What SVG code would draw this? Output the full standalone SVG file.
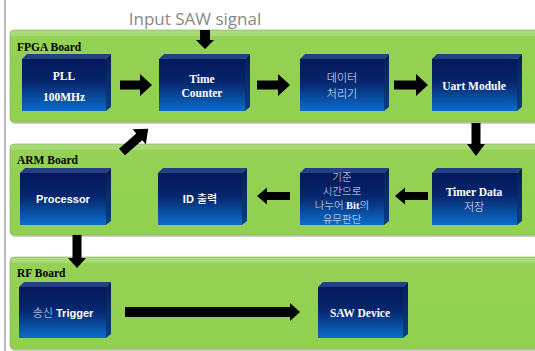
<svg xmlns="http://www.w3.org/2000/svg" width="535" height="351" viewBox="0 0 535 351">
<defs>
<linearGradient id="front" x1="0" y1="0" x2="0" y2="1">
<stop offset="0" stop-color="#03195a"/>
<stop offset="0.45" stop-color="#06266e"/>
<stop offset="1" stop-color="#0b6dc8"/>
</linearGradient>
<linearGradient id="side" x1="0" y1="0" x2="0" y2="1">
<stop offset="0" stop-color="#0a1c58"/>
<stop offset="1" stop-color="#0a3f82"/>
</linearGradient>
<linearGradient id="board" x1="0" y1="0" x2="0" y2="1">
<stop offset="0" stop-color="#acdc7e"/>
<stop offset="0.06" stop-color="#a6da74"/>
<stop offset="0.07" stop-color="#94d154"/>
<stop offset="1" stop-color="#92d050"/>
</linearGradient>
<style>
.board{fill:url(#board);stroke:#7fb048;stroke-width:0.6}
.bshadow{fill:#c8cfc4}
.blabel{font-family:"Liberation Serif","DejaVu Serif",serif;font-weight:bold;font-size:11.5px;fill:#000}
.fr{fill:url(#front)}
.tp{fill:#243f82}
.sd{fill:url(#side)}
.t{font-family:"Liberation Serif","DejaVu Serif",serif;font-weight:bold;font-size:11.5px;fill:#fff;text-anchor:middle}
.ts{font-family:"Liberation Sans","DejaVu Sans",sans-serif;font-weight:bold;font-size:11px;fill:#fff;text-anchor:middle}
.k{font-family:"Noto Sans CJK KR","Noto Sans",sans-serif;font-weight:300;font-size:11px;fill:#e4e8f2;text-anchor:middle}
.k2{font-family:"Noto Sans CJK KR","Noto Sans",sans-serif;font-weight:300;font-size:10.5px;fill:#e4e8f2;text-anchor:middle}
.ar{fill:#000}
</style>
</defs>
<rect width="535" height="351" fill="#fff"/>
<line x1="5" y1="0" x2="5" y2="351" stroke="#777" stroke-width="1"/>

<g id="fpga-board">
<rect class="bshadow" x="11" y="31" width="530" height="93" rx="4"/>
<rect class="board" x="10" y="30" width="530" height="92" rx="4"/>
<text class="blabel" x="17" y="51">FPGA Board</text>
</g>
<g id="arm-board">
<rect class="bshadow" x="11" y="145" width="530" height="92" rx="4"/>
<rect class="board" x="10" y="144" width="530" height="91" rx="4"/>
<text class="blabel" x="17" y="164">ARM Board</text>
</g>
<g id="rf-board">
<rect class="bshadow" x="11" y="258" width="530" height="93" rx="4"/>
<rect class="board" x="10" y="257" width="530" height="92" rx="4"/>
<text class="blabel" x="17" y="277">RF Board</text>
</g>

<text x="195" y="25" font-family="'Open Sans','Noto Sans',sans-serif" font-size="17" fill="#888" text-anchor="middle">Input SAW signal</text>

<g id="pll">
<polygon class="tp" points="22,59 27,54 111,54 106,59"/>
<polygon class="sd" points="106,59 111,54 111,107 106,111"/>
<rect class="fr" x="22" y="59" width="84" height="52"/>
<text class="t" x="64" y="80">PLL</text>
<text class="t" x="64" y="101">100MHz</text>
</g>
<g id="time-counter">
<polygon class="tp" points="159,59 164,54 250,54 245,59"/>
<polygon class="sd" points="245,59 250,54 250,107 245,111"/>
<rect class="fr" x="159" y="59" width="86" height="52"/>
<text class="t" x="202" y="83">Time</text>
<text class="t" x="202" y="97">Counter</text>
</g>
<g id="data-proc">
<polygon class="tp" points="300,59 305,54 389,54 384,59"/>
<polygon class="sd" points="384,59 389,54 389,107 384,111"/>
<rect class="fr" x="300" y="59" width="84" height="52"/>
<text class="k" x="342" y="82">데이터</text>
<text class="k" x="342" y="98">처리기</text>
</g>
<g id="uart">
<polygon class="tp" points="432,59 437,54 522,54 517,59"/>
<polygon class="sd" points="517,59 522,54 522,107 517,111"/>
<rect class="fr" x="432" y="59" width="85" height="52"/>
<text class="t" x="474" y="90">Uart Module</text>
</g>

<g id="processor">
<polygon class="tp" points="20,173 25,168 111,168 106,173"/>
<polygon class="sd" points="106,173 111,168 111,221 106,225"/>
<rect class="fr" x="20" y="173" width="86" height="52"/>
<text class="ts" x="63" y="203">Processor</text>
</g>
<g id="id-out">
<polygon class="tp" points="158,173 163,168 247,168 242,173"/>
<polygon class="sd" points="242,173 247,168 247,221 242,225"/>
<rect class="fr" x="158" y="173" width="84" height="52"/>
<text class="ts" x="200" y="203">ID <tspan font-family="'Noto Sans CJK KR',sans-serif" font-weight="500">출력</tspan></text>
</g>
<g id="bit-judge">
<polygon class="tp" points="300,173 305,168 389,168 384,173"/>
<polygon class="sd" points="384,173 389,168 389,221 384,225"/>
<rect class="fr" x="300" y="173" width="84" height="52"/>
<text class="k2" x="342" y="181">기준</text>
<text class="k2" x="342" y="195">시간으로</text>
<text class="k2" x="342" y="209">나누어 <tspan font-family="'Liberation Serif',serif" font-weight="bold" fill="#fff">Bit</tspan>의</text>
<text class="k2" x="342" y="223">유무판단</text>
</g>
<g id="timer-data">
<polygon class="tp" points="432,173 437,168 522,168 517,173"/>
<polygon class="sd" points="517,173 522,168 522,221 517,225"/>
<rect class="fr" x="432" y="173" width="85" height="52"/>
<text class="t" x="474" y="196">Timer Data</text>
<text class="k" x="474" y="211">저장</text>
</g>

<g id="trigger">
<polygon class="tp" points="19,287 24,282 111,282 106,287"/>
<polygon class="sd" points="106,287 111,282 111,334 106,338"/>
<rect class="fr" x="19" y="287" width="87" height="51"/>
<text class="ts" x="63" y="317"><tspan class="k" font-size="12">송신</tspan> Trigger</text>
</g>
<g id="saw-device">
<polygon class="tp" points="318,287 323,282 408,282 403,287"/>
<polygon class="sd" points="403,287 408,282 408,334 403,338"/>
<rect class="fr" x="318" y="287" width="85" height="51"/>
<text class="t" x="360" y="317">SAW Device</text>
</g>

<g id="connectors">
<polygon class="ar" points="120,80.5 140,80.5 140,74 152,85 140,96 140,89.5 120,89.5"/>
<polygon class="ar" points="257,80.5 278,80.5 278,74 290,85 278,96 278,89.5 257,89.5"/>
<polygon class="ar" points="394,80.5 416,80.5 416,74 428,85 416,96 416,89.5 394,89.5"/>
<polygon class="ar" points="200,30 210,30 210,40 214,40 205,49 196,40 200,40"/>
<polygon class="ar" points="471.5,123 480.5,123 480.5,144 485,144 476,156 467,144 471.5,144"/>
<polygon class="ar" points="428,192 405,192 405,187.5 395,196 405,204.5 405,200 428,200"/>
<polygon class="ar" points="290,192 267,192 267,187.5 257,196 267,204.5 267,200 290,200"/>
<polygon class="ar" points="0,-4.5 23,-4.5 23,-10 35,0 23,10 23,4.5 0,4.5" transform="translate(122,152) rotate(-41.5)"/>
<polygon class="ar" points="72.5,235 81.5,235 81.5,258 86,258 77,268 68,258 72.5,258"/>
<polygon class="ar" points="125,307 290,307 290,303 300,312 290,321 290,317 125,317"/>
</g>
</svg>
